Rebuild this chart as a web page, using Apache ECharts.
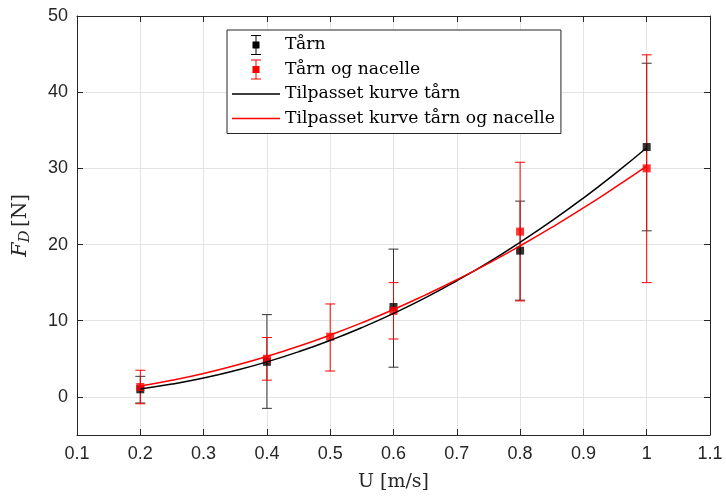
<!DOCTYPE html>
<html>
<head>
<meta charset="utf-8">
<script src="https://cdn.jsdelivr.net/npm/echarts@6/dist/echarts.min.js"></script>
<style>
html, body { margin: 0; padding: 0; background: #fff; }
#chart { width: 726px; height: 499px; }
</style>
</head>
<body>
<div id="chart"></div>
<script>
// målepunkter, tårn
var uTarn = [0.2, 0.4, 0.6, 0.8, 1.0];
var fTarn = [1.0, 4.6, 11.8, 19.2, 32.8];
var lowTarn = [-0.8, -1.5, 3.9, 12.7, 21.8];
var highTarn = [2.7, 10.8, 19.4, 25.7, 43.8];

// målepunkter, tårn og nacelle
var uNac = [0.2, 0.4, 0.5, 0.6, 0.8, 1.0];
var fNac = [1.3, 5.0, 7.9, 11.3, 21.7, 30.0];
var lowNac = [-0.9, 2.2, 3.4, 7.6, 12.6, 15.0];
var highNac = [3.5, 7.8, 12.2, 15.0, 30.8, 44.9];

// tilpassede kurver (avlest)
var uFit = [0.2, 0.25, 0.3, 0.35, 0.4, 0.45, 0.5, 0.55, 0.6, 0.65, 0.7, 0.75, 0.8, 0.85, 0.9, 0.95, 1.0];
var fitTarn = [1.05, 1.68, 2.48, 3.46, 4.6, 5.92, 7.42, 9.1, 10.96, 13.0, 15.25, 17.66, 20.3, 23.1, 26.1, 29.3, 32.7];
var fitNac = [1.42, 2.18, 3.07, 4.12, 5.31, 6.64, 8.12, 9.73, 11.47, 13.37, 15.38, 17.53, 19.83, 22.25, 24.8, 27.5, 30.3];

var yTicks = [0, 10, 20, 30, 40, 50];

function pairs(xs, ys) {
    return xs.map(function (x, i) { return [x, ys[i]]; });
}
function bars(xs, lo, hi) {
    return xs.map(function (x, i) { return [x, lo[i], hi[i]]; });
}

function renderErr(params, api) {
    var x = api.value(0);
    var pLo = api.coord([x, api.value(1)]);
    var pHi = api.coord([x, api.value(2)]);
    var st = { stroke: api.visual('color'), lineWidth: 1 };
    var cw = 5;
    return {
        type: 'group',
        children: [
            { type: 'line', shape: { x1: pLo[0], y1: pLo[1], x2: pHi[0], y2: pHi[1] }, style: st },
            { type: 'line', shape: { x1: pLo[0] - cw, y1: pLo[1], x2: pLo[0] + cw, y2: pLo[1] }, style: st },
            { type: 'line', shape: { x1: pHi[0] - cw, y1: pHi[1], x2: pHi[0] + cw, y2: pHi[1] }, style: st }
        ]
    };
}

// ikoner for legenden (boks 48x20)
var errIcon = 'path://M0,10h0.01v0.01h-0.01z M47.99,10h0.01v0.01h-0.01z M23.5,0h1v20h-1z M19,0h10v1h-10z M19,19h10v1h-10z M20.5,6.5h7v7h-7z';
var lineIcon = 'path://M0,0h0.01v0.01h-0.01z M0,9.25h48v1.5h-48z M47.99,19.99h0.01v0.01h-0.01z';

var axisCol = '#262626';
var gridCol = '#e3e3e3';
var serif = 'DejaVu Serif';

var chartDom = document.getElementById('chart');
var myChart = echarts.init(chartDom);
var option = {
    backgroundColor: '#fff',
    animation: false,
    grid: {
        left: 77,
        right: 16,
        top: 16,
        bottom: 64
    },
    legend: {
        orient: 'vertical',
        left: 227,
        top: 30,
        padding: [5, 6, 5, 5],
        itemGap: 4.5,
        itemWidth: 48,
        itemHeight: 20,
        borderColor: axisCol,
        borderWidth: 1,
        backgroundColor: '#fff',
        textStyle: {
            fontFamily: serif,
            fontSize: 17.2,
            color: '#000'
        },
        data: [
            { name: 'Tårn', icon: errIcon, itemStyle: { color: '#000' } },
            { name: 'Tårn og nacelle', icon: errIcon, itemStyle: { color: '#ff0000' } },
            { name: 'Tilpasset kurve tårn', icon: lineIcon, itemStyle: { color: '#000' } },
            { name: 'Tilpasset kurve tårn og nacelle', icon: lineIcon, itemStyle: { color: '#ff0000' } }
        ]
    },
    xAxis: [{
        type: 'value',
        min: 0.1,
        max: 1.1,
        interval: 0.1,
        name: 'U [m/s]',
        nameLocation: 'middle',
        nameGap: 38,
        nameTextStyle: {
            fontFamily: serif,
            fontSize: 19,
            color: axisCol
        },
        axisLine: { onZero: false, lineStyle: { color: axisCol, width: 1 } },
        axisTick: { inside: true, length: 6, lineStyle: { color: axisCol } },
        axisLabel: {
            margin: 10,
            fontFamily: 'Liberation Sans',
            fontSize: 18,
            color: axisCol
        },
        splitLine: { show: true, lineStyle: { color: gridCol, width: 1 } }
    }, {
        type: 'value',
        position: 'top',
        min: 0.1,
        max: 1.1,
        interval: 0.1,
        axisLine: { show: true, onZero: false, lineStyle: { color: axisCol, width: 1 } },
        axisTick: { show: true, inside: true, length: 6, lineStyle: { color: axisCol } },
        axisLabel: { show: false },
        splitLine: { show: false }
    }],
    yAxis: [{
        type: 'value',
        min: -5,
        max: 50,
        name: '{f|F}{d|D} {n|[N]}',
        nameLocation: 'middle',
        nameGap: 44,
        nameTextStyle: {
            color: axisCol,
            rich: {
                f: { fontFamily: serif, fontStyle: 'italic', fontSize: 21, color: axisCol },
                d: { fontFamily: serif, fontStyle: 'italic', fontSize: 15, color: axisCol, padding: [9, 0, 0, 0] },
                n: { fontFamily: serif, fontSize: 20, color: axisCol }
            }
        },
        axisLine: { show: true, onZero: false, lineStyle: { color: axisCol, width: 1 } },
        axisTick: { show: true, inside: true, length: 6, customValues: yTicks, lineStyle: { color: axisCol } },
        axisLabel: {
            customValues: yTicks,
            margin: 9,
            fontFamily: 'Liberation Sans',
            fontSize: 18,
            color: axisCol
        },
        splitLine: { show: true, lineStyle: { color: gridCol, width: 1 } }
    }, {
        type: 'value',
        position: 'right',
        min: -5,
        max: 50,
        axisLine: { show: true, onZero: false, lineStyle: { color: axisCol, width: 1 } },
        axisTick: { show: true, inside: true, length: 6, customValues: yTicks, lineStyle: { color: axisCol } },
        axisLabel: { show: false, customValues: yTicks },
        splitLine: { show: false }
    }],
    series: [
        {
            name: 'Tårn',
            type: 'custom',
            renderItem: renderErr,
            itemStyle: { color: '#333' },
            encode: { x: 0, y: [1, 2] },
            data: bars(uTarn, lowTarn, highTarn)
        },
        {
            name: 'Tårn',
            type: 'scatter',
            symbol: 'rect',
            symbolSize: 8,
            itemStyle: { color: '#000' },
            data: pairs(uTarn, fTarn)
        },
        {
            name: 'Tårn og nacelle',
            type: 'custom',
            renderItem: renderErr,
            itemStyle: { color: '#ff0000' },
            encode: { x: 0, y: [1, 2] },
            data: bars(uNac, lowNac, highNac)
        },
        {
            name: 'Tårn og nacelle',
            type: 'scatter',
            symbol: 'rect',
            symbolSize: 8,
            itemStyle: { color: '#ff0000' },
            data: pairs(uNac, fNac)
        },
        {
            name: 'Tilpasset kurve tårn',
            type: 'line',
            smooth: true,
            symbol: 'none',
            lineStyle: { color: '#000', width: 1.5 },
            itemStyle: { color: '#000' },
            data: pairs(uFit, fitTarn)
        },
        {
            name: 'Tilpasset kurve tårn og nacelle',
            type: 'line',
            smooth: true,
            symbol: 'none',
            lineStyle: { color: '#ff0000', width: 1.5 },
            itemStyle: { color: '#ff0000' },
            data: pairs(uFit, fitNac)
        }
    ]
};
option && myChart.setOption(option);
</script>
</body>
</html>
